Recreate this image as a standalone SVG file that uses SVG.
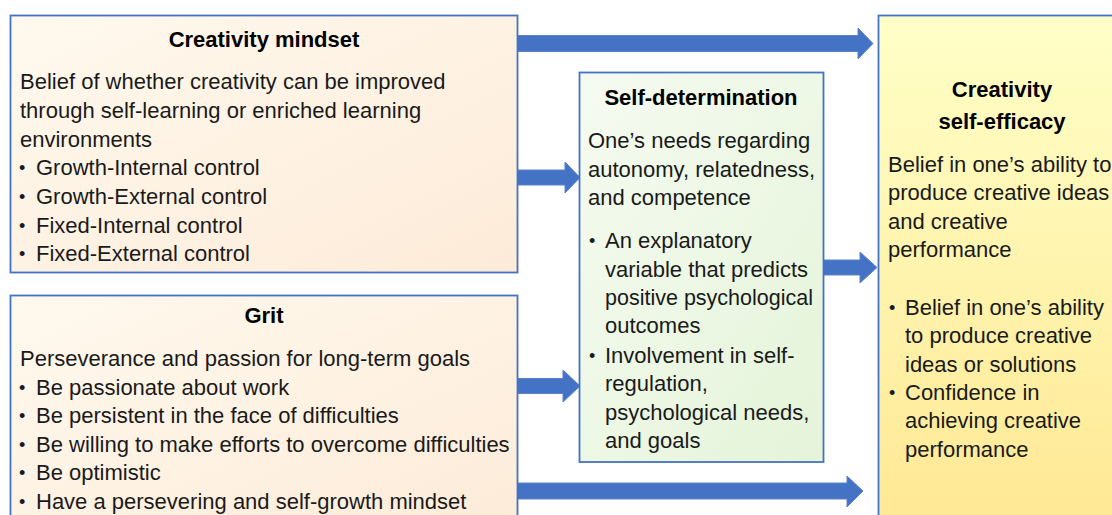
<svg xmlns="http://www.w3.org/2000/svg" width="1112" height="515" viewBox="0 0 1112 515">
<defs>
<linearGradient id="gPeach" x1="0" y1="0" x2="1" y2="1">
<stop offset="0" stop-color="#FFF9EE"/>
<stop offset="1" stop-color="#FDEBD8"/>
</linearGradient>
<linearGradient id="gGreen" x1="0" y1="0" x2="1" y2="1">
<stop offset="0" stop-color="#F6FBF1"/>
<stop offset="1" stop-color="#E4F4D9"/>
</linearGradient>
<linearGradient id="gYellow" x1="0" y1="0" x2="0" y2="1">
<stop offset="0" stop-color="#FFFFC8"/>
<stop offset="1" stop-color="#FFE893"/>
</linearGradient>
</defs>
<style>
.box{stroke:#4472C4;stroke-width:1.8}
.t{font-family:"Liberation Sans",Arial,sans-serif;font-size:22px;fill:#1a1a1a}
.b{font-family:"Liberation Sans",Arial,sans-serif;font-size:18px;fill:#1a1a1a}
.h{font-family:"Liberation Sans",Arial,sans-serif;font-size:22px;font-weight:bold;fill:#000;text-anchor:middle}
.arr{fill:#4472C4;stroke:#5B83CC;stroke-width:1}
</style>
<rect width="1112" height="515" fill="#fff"/>
<g id="connectors">
<polygon class="arr" points="517,35.5 858,35.5 858,28 873,43.5 858,59 858,51.5 517,51.5"/>
<polygon class="arr" points="517,170 565,170 565,162 580,177.5 565,193 565,185 517,185"/>
<polygon class="arr" points="517,378.5 563,378.5 563,370 580,386 563,402 563,393.5 517,393.5"/>
<polygon class="arr" points="823,260 860,260 860,252 877,267.5 860,283 860,275 823,275"/>
<polygon class="arr" points="517,483 847,483 847,476 863,491 847,507 847,499 517,499"/>
</g>
<g id="creativity-mindset">
<rect class="box" x="10.5" y="15.5" width="507" height="257" fill="url(#gPeach)"/>
<text class="h" x="264" y="47">Creativity mindset</text>
<text class="t" x="20" y="89">Belief of whether creativity can be improved</text>
<text class="t" x="20" y="118">through self-learning or enriched learning</text>
<text class="t" x="20" y="146.5">environments</text>
<text class="b" x="19" y="174">•</text><text class="t" x="36" y="175">Growth-Internal control</text>
<text class="b" x="19" y="203">•</text><text class="t" x="36" y="204">Growth-External control</text>
<text class="b" x="19" y="231.5">•</text><text class="t" x="36" y="232.5">Fixed-Internal control</text>
<text class="b" x="19" y="260">•</text><text class="t" x="36" y="261">Fixed-External control</text>
</g>
<g id="grit">
<rect class="box" x="10.5" y="295.5" width="507" height="240" fill="url(#gPeach)"/>
<text class="h" x="264" y="323">Grit</text>
<text class="t" x="20" y="366">Perseverance and passion for long-term goals</text>
<text class="b" x="19" y="393.5">•</text><text class="t" x="36" y="394.5">Be passionate about work</text>
<text class="b" x="19" y="422">•</text><text class="t" x="36" y="423">Be persistent in the face of difficulties</text>
<text class="b" x="19" y="450.5">•</text><text class="t" x="36" y="451.5">Be willing to make efforts to overcome difficulties</text>
<text class="b" x="19" y="479">•</text><text class="t" x="36" y="480">Be optimistic</text>
<text class="b" x="19" y="507.5">•</text><text class="t" x="36" y="508.5">Have a persevering and self-growth mindset</text>
</g>
<g id="self-determination">
<rect class="box" x="579.5" y="72.5" width="244" height="389.5" fill="url(#gGreen)"/>
<text class="h" x="701" y="105">Self-determination</text>
<text class="t" x="588" y="148">One’s needs regarding</text>
<text class="t" x="588" y="177">autonomy, relatedness,</text>
<text class="t" x="588" y="205">and competence</text>
<text class="b" x="589" y="247">•</text>
<text class="t" x="605" y="248">An explanatory</text>
<text class="t" x="605" y="277">variable that predicts</text>
<text class="t" x="605" y="305" textLength="208" lengthAdjust="spacingAndGlyphs">positive psychological</text>
<text class="t" x="605" y="333">outcomes</text>
<text class="b" x="589" y="362">•</text>
<text class="t" x="605" y="363">Involvement in self-</text>
<text class="t" x="605" y="391">regulation,</text>
<text class="t" x="605" y="420">psychological needs,</text>
<text class="t" x="605" y="448">and goals</text>
</g>
<g id="creativity-self-efficacy">
<rect class="box" x="878.5" y="15.5" width="260" height="520" fill="url(#gYellow)"/>
<text class="h" x="1002" y="97">Creativity</text>
<text class="h" x="1002" y="129">self-efficacy</text>
<text class="t" x="888" y="172">Belief in one’s ability to</text>
<text class="t" x="888" y="200">produce creative ideas</text>
<text class="t" x="888" y="229">and creative</text>
<text class="t" x="888" y="257">performance</text>
<text class="b" x="889" y="314">•</text>
<text class="t" x="905" y="315">Belief in one’s ability</text>
<text class="t" x="905" y="343">to produce creative</text>
<text class="t" x="905" y="372">ideas or solutions</text>
<text class="b" x="889" y="399">•</text>
<text class="t" x="905" y="400">Confidence in</text>
<text class="t" x="905" y="428">achieving creative</text>
<text class="t" x="905" y="457">performance</text>
</g>
</svg>
